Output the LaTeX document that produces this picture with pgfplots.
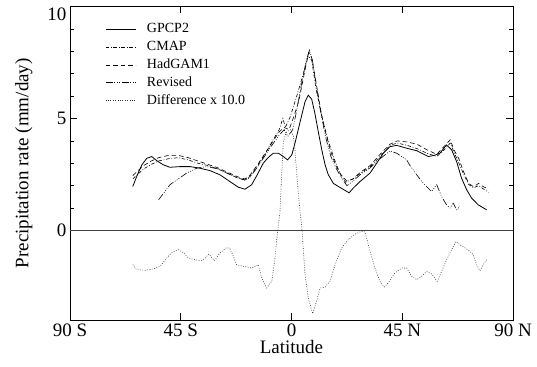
\documentclass[border=0pt]{standalone}
\usepackage{fontspec}
\setmainfont{Liberation Serif}
\usepackage{pgfplots}
\pgfplotsset{compat=1.18}
\begin{document}
\begin{tikzpicture}
\begin{axis}[
  at={(0,0)}, anchor=south west,
  scale only axis, width=443bp, height=313.5bp,
  xmin=-90, xmax=90, ymin=-4, ymax=10,
  xtick={-90,-45,0,45,90}, xticklabels={90 S,45 S,0,45 N,90 N},
  ytick={0,5,10}, yticklabels={0,5,\raisebox{-14bp}[0pt][0pt]{10}},
  minor y tick num=4,
  tick align=inside, major tick length=7bp, minor tick length=4bp,
  tick style={black, line width=0.6bp},
  axis line style={line width=0.7bp},
  ticklabel style={font=\fontsize{19bp}{22bp}\selectfont},
  /pgf/number format/assume math mode=true,
  xlabel={Latitude}, ylabel={Precipitation rate (mm/day)},
  label style={font=\fontsize{19bp}{22bp}\selectfont},
  xlabel style={at={(axis description cs:0.5,-0.086)}, anchor=center},
  ylabel style={at={(axis description cs:-0.104,0.5)}, anchor=center},
  legend image code/.code={\draw[#1] (0bp,0bp) -- (30bp,0bp);},
  legend cell align=left,
  legend style={draw=none, fill=none, inner sep=0pt,
    at={(axis description cs:0.079,0.955)}, anchor=north west,
    font=\fontsize{14bp}{17bp}\selectfont, row sep=0.8bp, column sep=9bp,
    nodes={text height=10bp, text depth=3bp, inner sep=2bp}},
]
\addplot[forget plot, black!75, line width=1.3bp] coordinates {(-90,0) (90,0)};

% GPCP2
\addplot[black, line width=0.8bp] coordinates {
(-64.5,1.96) (-62.9,2.41) (-60.8,2.93) (-58.8,3.22) (-56.8,3.30) (-54.8,3.12)
(-52.1,2.93) (-49.4,2.82) (-45.3,2.85) (-41.2,2.85) (-37.2,2.78) (-33.1,2.67)
(-29.0,2.48) (-25.0,2.18) (-21.6,1.93) (-18.9,1.84) (-16.2,2.04) (-14.1,2.45)
(-11.5,3.0) (-9.5,3.25) (-7.4,3.45) (-5.4,3.45) (-3.3,3.30) (-1.6,3.15)
(0.1,3.37) (1.4,3.89) (3.5,4.85) (5.5,5.75) (6.8,6.04) (8.2,5.86) (9.5,5.23)
(10.9,4.4) (12.3,3.6) (13.6,2.95) (14.9,2.5) (17.0,2.1) (20.0,1.9) (23.4,1.68)
(25.1,1.89) (27.8,2.18) (31.9,2.56) (34.6,3.0) (37.3,3.45) (40.0,3.74) (42.7,3.8)
(46.8,3.67) (50.9,3.56) (55.6,3.30) (58.0,3.35) (60.3,3.45) (63.0,3.82) (65.1,3.59)
(67.1,3.07) (69.1,2.33) (71.2,1.81) (73.2,1.44) (75.9,1.14) (79.3,0.92)};
\addlegendentry{GPCP2}

% CMAP
\addplot[black, line width=0.6bp, dash pattern=on 3.5bp off 1.8bp on 0.8bp off 1.8bp] coordinates {
(-64.5,2.3) (-62,2.55) (-60,2.75) (-57,2.95) (-54,3.1) (-50,3.2) (-46,3.25)
(-42,3.15) (-38,3.0) (-34,2.9) (-30,2.75) (-26,2.55) (-22,2.35) (-19,2.25)
(-17,2.4) (-14,2.85) (-11,3.35) (-8,3.95) (-5,4.5) (-3.5,5.0) (-2.5,4.6)
(-0.6,5.05) (2,5.95) (4.8,7.0) (6.8,7.8) (8.2,7.6) (10,6.3) (12.3,5.1)
(14.9,4.0) (17.7,3.1) (19.7,2.55) (22,2.15) (25,2.3) (28,2.55) (32,2.85)
(36,3.3) (40,3.8) (43,3.9) (47,3.8) (51,3.65) (55,3.45) (59,3.3) (62,3.6)
(64.5,3.9) (66,3.5) (68,3.0) (70,2.5) (72,2.05) (74,1.9) (76,2.0) (78,1.85) (80,1.7)};
\addlegendentry{CMAP}

% HadGAM1
\addplot[black, line width=0.6bp, dash pattern=on 4.5bp off 3bp] coordinates {
(-64.5,2.45) (-62,2.7) (-60,2.9) (-57,3.1) (-54,3.25) (-50,3.35) (-46,3.35)
(-42,3.25) (-38,3.1) (-34,2.95) (-30,2.8) (-26,2.6) (-22,2.4) (-19,2.3)
(-17,2.45) (-14,2.9) (-11,3.4) (-8,3.9) (-5,4.4) (-3,4.6) (-1,4.5) (1,5.1)
(3,5.8) (5,6.9) (7,7.95) (8.2,7.7) (10,6.6) (12,5.3) (14,4.3) (16,3.5)
(18,2.9) (20,2.5) (22.5,2.2) (25,2.3) (28,2.6) (32,2.9) (36,3.4) (40,3.85)
(43,4.0) (47,3.95) (51,3.85) (55,3.6) (59,3.4) (62,3.75) (64.5,4.05) (66,3.6)
(68,3.2) (70,2.6) (72,2.1) (74,1.95) (76,2.1) (78,1.95) (80,1.85)};
\addlegendentry{HadGAM1}

% Revised
\addplot[black, line width=0.6bp, dash pattern=on 7bp off 1.8bp on 0.8bp off 1.5bp on 0.8bp off 1.5bp on 0.8bp off 1.8bp] coordinates {
(-54,1.37) (-51,1.8) (-49.4,2.04) (-46,2.3) (-42.6,2.56) (-38.5,2.78)
(-34.4,2.85) (-30,2.75) (-26,2.55) (-22,2.35) (-19,2.25) (-17,2.35) (-14,2.8)
(-11,3.3) (-8,3.8) (-5,4.25) (-3,4.5) (-1.5,4.2) (0.5,4.5) (2,5.3) (4,6.5)
(6,7.6) (7.3,8.05) (8.5,7.6) (10,6.5) (12,5.2) (14,4.1) (16,3.3) (18,2.8)
(20,2.4) (22.5,2.0) (25,2.2) (28,2.5) (32,2.8) (36,3.2) (40,3.55) (42.7,3.45)
(46.8,3.15) (48.1,2.9) (50.9,2.48) (53.5,2.11) (56.9,1.74) (59,2.04) (61,1.51)
(63,1.14) (64.4,1.0) (65.7,1.22) (67.1,0.92) (68.4,1.07)};
\addlegendentry{Revised}

% Difference x 10
\addplot[black!80, line width=0.6bp, dash pattern=on 0.8bp off 1.6bp] coordinates {
(-64.5,-1.53) (-62.9,-1.75) (-59.5,-1.78) (-56.1,-1.72) (-53.4,-1.6) (-50.7,-1.23)
(-48.7,-1.0) (-46,-0.86) (-43.9,-1.0) (-41.9,-1.23) (-39.2,-1.31) (-36.5,-1.35)
(-35.1,-1.23) (-33.5,-1.05) (-31.4,-1.35) (-29,-1.0) (-26.3,-0.76) (-25,-0.82)
(-23.6,-1.16) (-22.3,-1.53) (-19.6,-1.6) (-16.2,-1.68) (-13.5,-1.53) (-12.1,-2.12)
(-10.1,-2.57) (-8.0,-2.27) (-6.7,-1.23) (-5.8,-0.19) (-4.7,0.8) (-4.2,2.0)
(-3.3,4.0) (-2.0,4.4) (-0.5,4.5) (0.8,4.2) (1.4,3.6) (2.5,2.0) (3.5,0.8)
(4.1,0.25) (5.5,-1.97) (6.8,-3.01) (8.6,-3.72) (10.2,-3.16) (11.6,-2.57)
(13.6,-2.54) (15.6,-2.27) (17.7,-1.53) (20.4,-0.78) (23.1,-0.41) (25.8,-0.16)
(28.5,-0.04) (29.9,-0.07) (31.9,-0.93) (33.9,-1.68) (35.9,-2.27) (37.6,-2.54)
(39.3,-2.34) (42.0,-1.9) (44.8,-1.68) (46.8,-1.68) (48.8,-2.05) (50.9,-2.2)
(52.9,-2.05) (54.9,-1.83) (56.9,-1.94) (59.2,-2.27) (61.0,-1.83) (63.0,-1.31)
(65.1,-0.86) (66.8,-0.49) (68.4,-0.64) (70.5,-0.78) (72.5,-0.93) (73.8,-1.08)
(75.2,-1.53) (76.6,-1.8) (77.9,-1.53) (79.3,-1.31)};
\addlegendentry{Difference x 10.0}
\end{axis}
\pgfresetboundingbox
\path (-70bp,-47bp) rectangle (467bp,320bp);
\end{tikzpicture}
\end{document}
